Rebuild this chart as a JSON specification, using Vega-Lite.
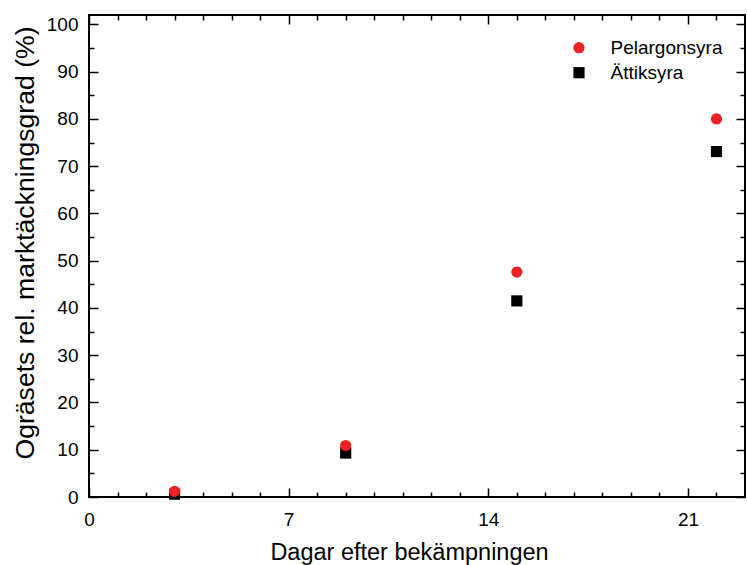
{
  "$schema": "https://vega.github.io/schema/vega-lite/v6.json",
  "width": 656,
  "height": 482,
  "autosize": {"type": "none"},
  "padding": {"left": 89, "top": 15, "right": 2, "bottom": 68},
  "background": "white",
  "config": {
    "view": {"stroke": "black", "strokeWidth": 2},
    "font": "Liberation Sans",
    "style": {"guide-label": {"fontSize": 19, "font": "Liberation Sans", "fill": "black"}},
    "axis": {
      "domain": false,
      "grid": false,
      "labelFlush": false,
      "tickColor": "black",
      "tickWidth": 1.5,
      "labelFont": "Liberation Sans",
      "labelFontSize": 19,
      "labelColor": "black",
      "titleFont": "Liberation Sans",
      "titleFontWeight": "normal",
      "titleColor": "black"
    },
    "legend": {
      "labelFont": "Liberation Sans",
      "labelFontSize": 19,
      "labelColor": "black"
    }
  },
  "data": {
    "values": [
      {"d": 3, "v": 0.6, "s": "Ättiksyra"},
      {"d": 9, "v": 9.3, "s": "Ättiksyra"},
      {"d": 15, "v": 41.5, "s": "Ättiksyra"},
      {"d": 22, "v": 73.1, "s": "Ättiksyra"},
      {"d": 3, "v": 1.2, "s": "Pelargonsyra"},
      {"d": 9, "v": 10.9, "s": "Pelargonsyra"},
      {"d": 15, "v": 47.6, "s": "Pelargonsyra"},
      {"d": 22, "v": 80.0, "s": "Pelargonsyra"}
    ]
  },
  "resolve": {"axis": {"x": "independent", "y": "independent"}},
  "layer": [
    {
      "mark": {"type": "point", "filled": true, "opacity": 1, "size": 125},
      "encoding": {
        "x": {
          "field": "d", "type": "quantitative",
          "scale": {"domain": [0, 23], "nice": false, "zero": false},
          "axis": {"orient": "bottom", "values": [0, 7, 14, 21], "tickSize": -9, "labelPadding": 22, "labelFontSize": 19, "labelFlush": false, "title": "Dagar efter bekämpningen", "titleFontSize": 23.5, "titleX": 320, "titleY": 62, "titleBaseline": "alphabetic"}
        },
        "y": {
          "field": "v", "type": "quantitative",
          "scale": {"domain": [0, 102], "nice": false, "zero": false},
          "axis": {"orient": "left", "values": [0, 10, 20, 30, 40, 50, 60, 70, 80, 90, 100], "tickSize": -9, "labelPadding": 20, "labelFontSize": 19, "labelFlush": false, "title": "Ogräsets rel. marktäckningsgrad (%)", "titleFontSize": 26.6, "titleX": -56, "titleY": 227.5, "titleBaseline": "alphabetic"}
        },
        "color": {
          "field": "s", "type": "nominal",
          "scale": {"domain": ["Pelargonsyra", "Ättiksyra"], "range": ["#ed2024", "#000000"]},
          "legend": {"title": null, "orient": "none", "legendX": 480.5, "legendY": 23.2, "symbolSize": 125, "labelOffset": 22, "rowPadding": 5, "padding": 0, "symbolStrokeWidth": 0, "labelFontSize": 19}
        },
        "shape": {
          "field": "s", "type": "nominal",
          "scale": {"domain": ["Pelargonsyra", "Ättiksyra"], "range": ["circle", "square"]},
          "legend": null
        }
      }
    },
    {
      "mark": {"type": "point", "opacity": 0},
      "encoding": {
        "x": {"field": "d", "type": "quantitative", "axis": {"orient": "bottom", "values": [1,2,3,4,5,6,8,9,10,11,12,13,15,16,17,18,19,20,22], "tickSize": -5, "labels": false, "title": null}},
        "y": {"field": "v", "type": "quantitative", "axis": {"orient": "left", "values": [5,15,25,35,45,55,65,75,85,95], "tickSize": -5, "labels": false, "title": null}}
      }
    },
    {
      "mark": {"type": "point", "opacity": 0},
      "encoding": {
        "x": {"field": "d", "type": "quantitative", "axis": {"orient": "top", "values": [0, 7, 14, 21], "tickSize": -9, "labels": false, "title": null}},
        "y": {"field": "v", "type": "quantitative", "axis": {"orient": "right", "values": [0, 10, 20, 30, 40, 50, 60, 70, 80, 90, 100], "tickSize": -9, "labels": false, "title": null}}
      }
    },
    {
      "mark": {"type": "point", "opacity": 0},
      "encoding": {
        "x": {"field": "d", "type": "quantitative", "axis": {"orient": "top", "values": [1,2,3,4,5,6,8,9,10,11,12,13,15,16,17,18,19,20,22], "tickSize": -5, "labels": false, "title": null}},
        "y": {"field": "v", "type": "quantitative", "axis": {"orient": "right", "values": [5,15,25,35,45,55,65,75,85,95], "tickSize": -5, "labels": false, "title": null}}
      }
    }
  ]
}
